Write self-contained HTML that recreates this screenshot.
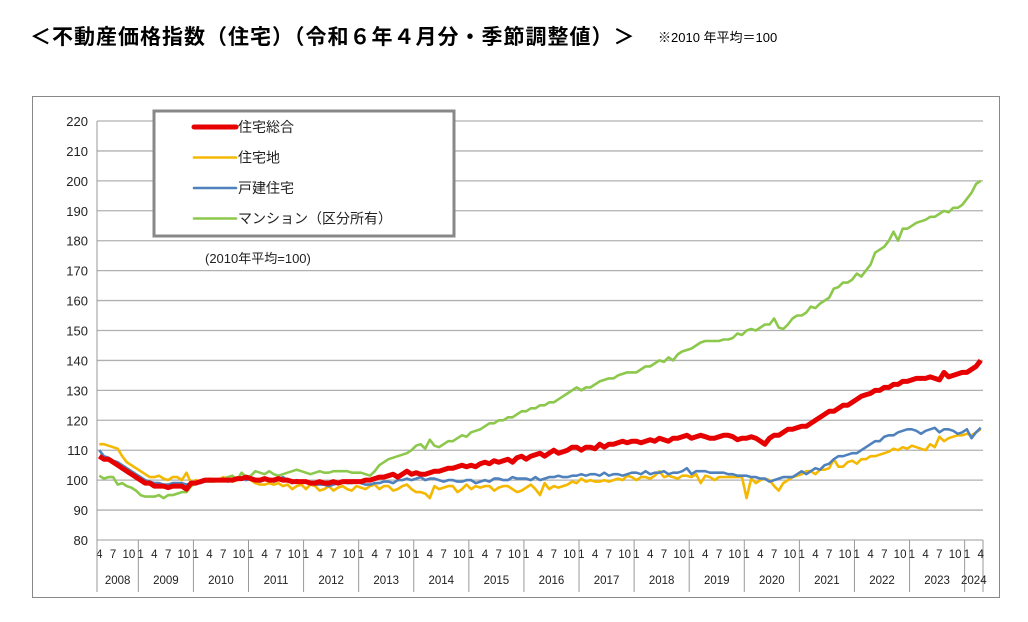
<!DOCTYPE html>
<html><head><meta charset="utf-8">
<style>
body{margin:0;background:#fff;width:1028px;height:622px;overflow:hidden;font-family:"Liberation Sans","Noto Sans CJK JP",sans-serif;}
#title{position:absolute;left:30px;top:21px;font-size:21px;font-weight:bold;color:#000;letter-spacing:1.0px;white-space:nowrap;}
#note{position:absolute;left:658px;top:27px;font-size:13px;color:#000;}
svg{position:absolute;left:0;top:0;}
</style></head>
<body>
<div id="title">＜不動産価格指数（住宅）（令和６年４月分・季節調整値）＞</div>
<div id="note">※2010 年平均＝100</div>
<svg id="chart" width="1028" height="622"></svg>
<script>
const yTicks=[80,90,100,110,120,130,140,150,160,170,180,190,200,210,220];
const years=[2008,2009,2010,2011,2012,2013,2014,2015,2016,2017,2018,2019,2020,2021,2022,2023,2024];
const totalSeries=[108,107,107,106,105,104,103,102,101,
100,99,99,98,98,98,97.5,98,98,98,97,99,
99,99.5,100,100,100,100,100,100,100,100.5,100.5,101,
100.5,100,100,100.5,100,100,100.5,100,100,99.5,99.5,99.5,
99.5,99,99,99.5,99,99,99.5,99,99.5,99.5,99.5,99.5,
99.5,100,100,100.5,101,101,101.5,102,101,102,103,102,
102.5,102,102,102.5,103,103,103.5,104,104,104.5,105,104.5,
105,104.5,105.5,106,105.5,106.5,106,106.5,107,106,107.5,108,
107,108,108.5,109,108,109,110,109,109.5,110,111,111,
110,111,111,110.5,112,111,112,112,112.5,113,112.5,113,
113,112.5,113,113.5,113,114,113.5,113,114,114,114.5,115,
114,114.5,115,114.5,114,114,114.5,115,115,114.5,113.5,114,
114,114.5,114,113,112,114,115,115,116,117,117,117.5,
118,118,119,120,121,122,123,123,124,125,125,126,
127,128,128.5,129,130,130,131,131,132,132,133,133,
133.5,134,134,134,134.5,134,133.5,136,134.5,135,135.5,136,
136,137,138,140];
const landSeries=[112,112,111.5,111,110.5,108,106,105,104,
103,102,101,101,101.5,100.5,100,101,101,100,102.5,99,
100,99.5,100,100.5,100,100,101,100,99.5,100,100.5,101,
100,99,98.5,98.5,99,98.5,99,98,98.5,97,98,98.5,
97,98.5,98,96.5,97,98,96.5,97.5,98,97,96.5,98,
97.5,97,98,98.5,97,98,98,96.5,97,98,98.5,97,
96,96,95.5,94,98,97,97.5,98,98,96,97,98.5,
97,98,97.5,98,98,96.5,97.5,98,98,97,96,96.5,
97.5,98.5,97,95,99,97,98,97.5,98,98.5,99.5,99,
100.5,99.5,100,99.5,99.5,100,99.5,100,100.5,100,101.5,101,
100,101,101,100.5,101.5,103,101,101.5,101,100.5,101.5,101.5,
101,102,99,101.5,101,100,101,101,101,101,101,101,
94,100.5,99,100,100.5,100,98,96.5,99,100,101,101.5,
102,103,103,102,103.5,103.5,104,107,104.5,104.5,106,106.5,
105.5,107,107,108,108,108.5,109,109.5,110.5,110,111,110.5,
111.5,111,110.5,110,112,111,114.5,113,114,114.5,115,115,
115.5,115,116,117];
const houseSeries=[110,108,107.5,106.5,106,105,104,103,102,
101,100,99.5,99,99,98.5,98.5,99,99,99,98.5,99,
99,99,99.5,100,100,100,100.5,99.5,100,100,100.5,100,
100.5,100,99.5,100,100.5,99.5,100,101,100,99,100,99.5,
99.5,99,98.5,98.5,98.5,98,98.5,99,99.5,99,99,99.5,
99,98.5,98.5,99,99,99.5,99.5,99,100,100,100.5,100,
100.5,101,100,100.5,100.5,100,99.5,100,100,99.5,99.5,100,
100,99,99.5,100,99.5,100.5,100.5,100,100,101,100.5,100.5,
100.5,100,101,100,100.5,101,101,101.5,101,101,101.5,101.5,
102,101.5,102,102,101.5,102.5,101.5,102,102,101.5,102,102.5,
102.5,102,103,102,102.5,102.5,103,102,102.5,102.5,103,104,
102,103,103,103,102.5,102.5,102.5,102.5,102,102,101.5,101.5,
101.5,101,101,100.5,100.5,99.5,100,100.5,101,101,101,102,
103,102,103,104,103.5,105,105.5,107,108,108,108.5,109,
109,110,111,112,113,113,114.5,115,115,116,116.5,117,
117,116.5,115.5,116.5,117,117.5,116,117,117,116.5,115.5,116,
117,114,116,117.5];
const condoSeries=[101.5,100.5,101,101,98.5,99,98,97.5,96.5,
95,94.5,94.5,94.5,95,94,95,95,95.5,96,96,98,
99,99.5,99.5,99.5,99.5,100,100.5,101,101.5,100,102.5,101,
101.5,103,102.5,102,103,102,101.5,102,102.5,103,103.5,103,
102.5,102,102.5,103,102.5,102.5,103,103,103,103,102.5,102.5,
102.5,102,101.5,103,105,106,107,107.5,108,108.5,109,110,
111.5,112,110.5,113.5,111.5,111,112,113,113,114,115,114.5,
116,116.5,117,118,119,119,120,120,121,121,122,123,
123,124,124,125,125,126,126,127,128,129,130,131,
130,131,131,132,133,133.5,134,134,135,135.5,136,136,
136,137,138,138,139,140,139.5,141,140,142,143,143.5,
144,145,146,146.5,146.5,146.5,146.5,147,147,147.5,149,148.5,
150,150.5,150,151,152,152,154,151,150.5,152,154,155,
155,156,158,157.5,159,160,161,164,164.5,166,166,167,
169,168,170,172,176,177,178,180,183,180,184,184,
185,186,186.5,187,188,188,189,190,189.5,191,191,192,
194,196,199,200];
const seriesNames=["住宅総合","住宅地","戸建住宅","マンション（区分所有）"];
const seriesColors=["#e60000","#f5b800","#4f81bd","#8cc84b"];

const NS="http://www.w3.org/2000/svg";
const svg=document.getElementById('chart');
const L=97,R=983,T=121,B=540;
const N=totalSeries.length;
const cw=(R-L)/N;
function xs(i){return L+cw*(i+0.5);}
function ys(v){return B-(v-80)*(B-T)/140;}
function mk(tag,attrs,parent){const e=document.createElementNS(NS,tag);for(const k in attrs)e.setAttribute(k,attrs[k]);(parent||svg).appendChild(e);return e;}

const frame=mk('rect',{x:32.5,y:96.5,width:967,height:501,fill:'#fff',stroke:'#888','stroke-width':1});



yTicks.forEach(v=>{
  const g=mk('line',{x1:L,x2:R,y1:ys(v),y2:ys(v),stroke:'#b0b0b0','stroke-width':1.3});
  
  
  const t=mk('text',{x:88,y:ys(v)+5,'text-anchor':'end','font-size':13,fill:'#222'});
  t.textContent=v;
  
  
});
mk('line',{x1:L,x2:L,y1:T,y2:B,stroke:'#999','stroke-width':1});
mk('line',{x1:R,x2:R,y1:B,y2:592,stroke:'#999','stroke-width':1});

for(let i=0;i<N;i++){
  const m=((i+3)%12)+1;
  const yr=2008+Math.floor((i+3)/12);
  if(m===1){
    const sep=mk('line',{x1:L+cw*i,x2:L+cw*i,y1:B,y2:592,stroke:'#999','stroke-width':1});
    
    
  }
  if(m===1||m===4||m===7||m===10){
    const t=mk('text',{x:xs(i)+(m===10?2:0),y:558,'text-anchor':'middle','font-size':11.5,fill:'#222'});
    t.textContent=m;
    
    
  }
}
mk('line',{x1:L,x2:L,y1:B,y2:592,stroke:'#999','stroke-width':1});
years.forEach(yr=>{
  const i0=Math.max(0,(yr-2008)*12-3);
  const i1=Math.min(N,(yr-2008)*12+9);
  const t=mk('text',{x:(L+cw*i0+L+cw*i1)/2,y:584,'text-anchor':'middle','font-size':11.5,fill:'#222'});
  t.textContent=yr;
  
  
});

const bg=mk('rect',{x:193,y:247,width:182,height:22,fill:'#fff'});
const bl=mk('text',{x:205,y:263,'font-size':13,fill:'#222'});
bl.textContent='(2010年平均=100)';



const all=[totalSeries,landSeries,houseSeries,condoSeries];
const widths=[5,2.6,2.6,2.6];
[3,1,2,0].forEach(k=>{
  const pts=all[k].map((v,i)=>xs(i).toFixed(1)+','+ys(v).toFixed(1)).join(' ');
  const p=mk('polyline',{points:pts,fill:'none',stroke:seriesColors[k],'stroke-width':widths[k],'stroke-linejoin':'round'});
  
  
});

const lg=mk('g',{});


mk('rect',{x:154,y:111,width:300,height:125,fill:'#fff',stroke:'#888','stroke-width':3},lg);
seriesNames.forEach((n,k)=>{
  const yy=127+k*30.5;
  mk('line',{x1:194,x2:236,y1:yy,y2:yy,stroke:seriesColors[k],'stroke-width':k===0?5:2.6,'stroke-linecap':'round'},lg);
  const t=mk('text',{x:238,y:yy+5,'font-size':14,fill:'#222'},lg);
  t.textContent=n;
  
  
});
</script>
</body></html>
